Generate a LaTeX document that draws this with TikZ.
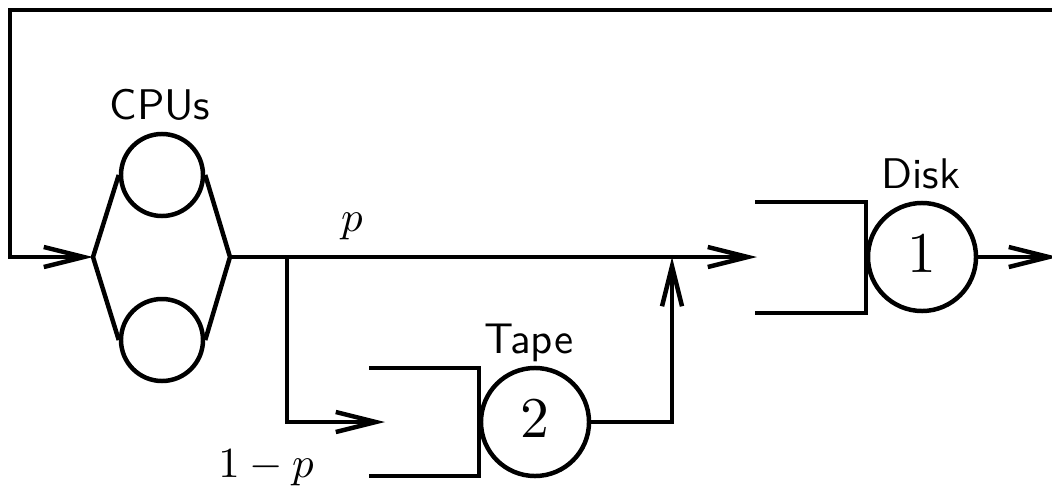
\documentclass[tikz,border=0pt]{standalone}
\usetikzlibrary{arrows.meta}
\begin{document}
\begin{tikzpicture}[x=0.025cm,y=-0.025cm,
  line width=0.112cm,
  arr/.style={-{Straight Barb[length=1.0cm,width=0.5cm]}},
  srv/.style={circle,draw,inner sep=0pt,minimum size=2.7cm},
  num/.style={inner sep=0pt,scale=4.1},
  cpu/.style={circle,draw,inner sep=0pt,minimum size=2.05cm},
  lbl/.style={font=\sffamily,inner sep=0pt,anchor=base,scale=3.05},
  mlbl/.style={inner sep=0pt,anchor=base,scale=3.05}]
\useasboundingbox (0,0) rectangle (1052,487);
\clip (0,0) rectangle (1052,487);

% CPUs
\node[cpu] (cpu1) at (162,175) {};
\node[cpu] (cpu2) at (162,340) {};
\coordinate (cpuL) at (93,257);
\coordinate (cpuR) at (230,257);
\draw (cpu1.west) -- (cpuL) -- (cpu2.west);
\draw (cpu1.east) -- (cpuR) -- (cpu2.east);
\node[lbl] (cpulbl) at (160,119) {CPUs};

% Disk
\node[srv] (disk) at (922,257) {};
\node[num] (disknum) at (922,254) {$1$};
\coordinate (dqT) at (755,202);
\coordinate (dqB) at (755,313);
\coordinate (dqIn) at (757,257);
\draw (dqT) -| (disk.west) |- (dqB);
\node[lbl] (disklbl) at (921,188) {Disk};

% Tape
\node[srv] (tape) at (535,422) {};
\node[num] (tapenum) at (535,419) {$2$};
\coordinate (tqT) at (369,368);
\coordinate (tqB) at (369,476);
\coordinate (tqIn) at (385,422);
\draw (tqT) -| (tape.west) |- (tqB);
\node[lbl] (tapelbl) at (529,353) {Tape};

% connectors
\coordinate (split) at (287,257);
\coordinate (merge) at (672,257);
\coordinate (out) at (1058,257);
\coordinate (loopR) at (1060,10);
\coordinate (loopTL) at (10,10);

\draw[arr] (cpuR) -- (dqIn);
\draw[arr] (split) |- (tqIn);
\draw[arr] (tape.east) -| (merge);
\draw[arr] (disk.east) -- (out);
\draw[arr] (loopR) -- (loopTL) |- (cpuL);

\node[mlbl] (plbl) at (352,231) {$p$};
\node[mlbl] (qlbl) at (266,477) {$1-p$};
\end{tikzpicture}
\end{document}
